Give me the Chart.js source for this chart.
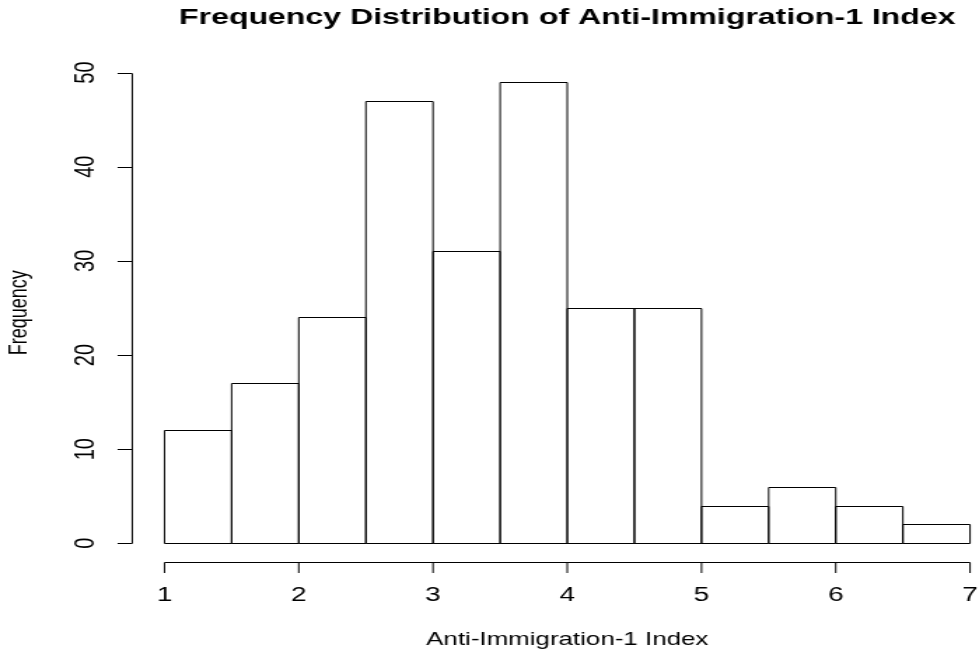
<!DOCTYPE html>
<html><head><meta charset="utf-8">
<script src="https://cdn.jsdelivr.net/npm/chart.js@4"></script>
<style>
html,body{margin:0;padding:0;background:#fff;overflow:hidden;}
#wrap{width:699px;height:656px;transform:scaleX(1.40057);transform-origin:0 0;}
</style></head><body>
<div id="wrap"><canvas id="c"></canvas></div>
<script>
const chartTitle = 'Frequency Distribution of Anti-Immigration-1 Index';
const xAxisTitle = 'Anti-Immigration-1 Index';
const yAxisTitle = 'Frequency';
const binEdges = [1, 1.5, 2, 2.5, 3, 3.5, 4, 4.5, 5, 5.5, 6, 6.5, 7];
const frequencies = [12, 17, 24, 47, 31, 49, 25, 25, 4, 6, 4, 2];
const xTickLabels = [1, 2, 3, 4, 5, 6, 7];
const yTickLabels = [0, 10, 20, 30, 40, 50];

const bars = frequencies.map((f, i) => ({ x: (binEdges[i] + binEdges[i + 1]) / 2, y: f }));
const FONT = '"Liberation Sans", Arial, Helvetica, sans-serif';

// Outline each bar (R-style: shared edges drawn once, full rectangle)
const barOutlines = {
  id: 'barOutlines',
  afterDatasetsDraw(chart) {
    const { ctx } = chart;
    const meta = chart.getDatasetMeta(0);
    ctx.save();
    ctx.strokeStyle = '#000';
    ctx.lineWidth = 1;
    ctx.beginPath();
    meta.data.forEach(el => {
      const p = el.getProps(['x', 'y', 'base', 'width'], true);
      const l = p.x - p.width / 2, r = p.x + p.width / 2;
      const t = Math.round(p.y) + 0.5, b = Math.round(p.base) + 0.5;
      ctx.moveTo(l, b); ctx.lineTo(l, t); ctx.lineTo(r, t); ctx.lineTo(r, b); ctx.lineTo(l, b);
    });
    ctx.stroke();
    ctx.restore();
  }
};

const rAxes = {
  id: 'rAxes',
  afterDraw(chart) {
    const { ctx, scales: { x, y } } = chart;
    const xMin = binEdges[0], xMax = binEdges[binEdges.length - 1];
    const yTop = Math.max(...frequencies);
    const padX = 0.04 * (xMax - xMin), padY = 0.04 * yTop;
    const axX = x.getPixelForValue(xMin - padX);
    const axY = Math.round(y.getPixelForValue(-padY)) + 0.5;
    const tick = 10.5;
    ctx.save();
    ctx.strokeStyle = '#000';
    ctx.lineWidth = 1;
    const y0 = y.getPixelForValue(yTickLabels[0]);
    const y1 = y.getPixelForValue(yTickLabels[yTickLabels.length - 1]);
    ctx.beginPath();
    ctx.moveTo(axX, Math.round(y0) + 0.5);
    ctx.lineTo(axX, Math.round(y1) + 0.5);
    yTickLabels.forEach(v => {
      const py = Math.round(y.getPixelForValue(v)) + 0.5;
      ctx.moveTo(axX, py);
      ctx.lineTo(axX - tick, py);
    });
    ctx.moveTo(x.getPixelForValue(xTickLabels[0]), axY);
    ctx.lineTo(x.getPixelForValue(xTickLabels[xTickLabels.length - 1]), axY);
    xTickLabels.forEach(v => {
      const px = x.getPixelForValue(v);
      ctx.moveTo(px, axY);
      ctx.lineTo(px, axY + tick);
    });
    ctx.stroke();

    ctx.fillStyle = '#000';
    ctx.font = '20px ' + FONT;
    ctx.textAlign = 'center';
    ctx.textBaseline = 'middle';
    xTickLabels.forEach(v => {
      ctx.fillText(String(v), x.getPixelForValue(v), axY + 33);
    });
    yTickLabels.forEach(v => {
      ctx.save();
      ctx.translate(axX - 33, y.getPixelForValue(v));
      ctx.rotate(-Math.PI / 2);
      ctx.fillText(String(v), 0, 0);
      ctx.restore();
    });
    ctx.font = '18.5px ' + FONT;
    ctx.fillText(xAxisTitle, x.getPixelForValue((xMin + xMax) / 2), 640);
    const yMid = (y.getPixelForValue(-padY) + y.getPixelForValue(yTop + padY)) / 2;
    ctx.save();
    ctx.translate(13.7, yMid);
    ctx.rotate(-Math.PI / 2);
    ctx.font = '18px ' + FONT;
    ctx.fillText(yAxisTitle, 0, 0);
    ctx.restore();
    ctx.restore();
  }
};

new Chart(document.getElementById('c'), {
  type: 'bar',
  data: {
    datasets: [{
      label: yAxisTitle,
      data: bars,
      backgroundColor: '#ffffff',
      borderColor: '#000000',
      borderWidth: 0,
      barPercentage: 1,
      categoryPercentage: 1
    }]
  },
  options: {
    responsive: true,
    maintainAspectRatio: false,
    animation: false,
    layout: { padding: { left: 117.45, right: 6.4, top: 0, bottom: 112.7 } },
    plugins: {
      legend: { display: false },
      tooltip: { enabled: false },
      title: {
        display: true,
        text: chartTitle,
        fullSize: false,
        color: '#000',
        font: { family: FONT, size: 22.9, weight: 'bold', lineHeight: 1.2 },
        padding: { top: 4, bottom: 41.1 }
      }
    },
    scales: {
      x: { type: 'linear', min: binEdges[0], max: binEdges[binEdges.length - 1], display: false, offset: false },
      y: { type: 'linear', min: yTickLabels[0], max: yTickLabels[yTickLabels.length - 1], display: false }
    }
  },
  plugins: [barOutlines, rAxes]
});
</script>
</body></html>
